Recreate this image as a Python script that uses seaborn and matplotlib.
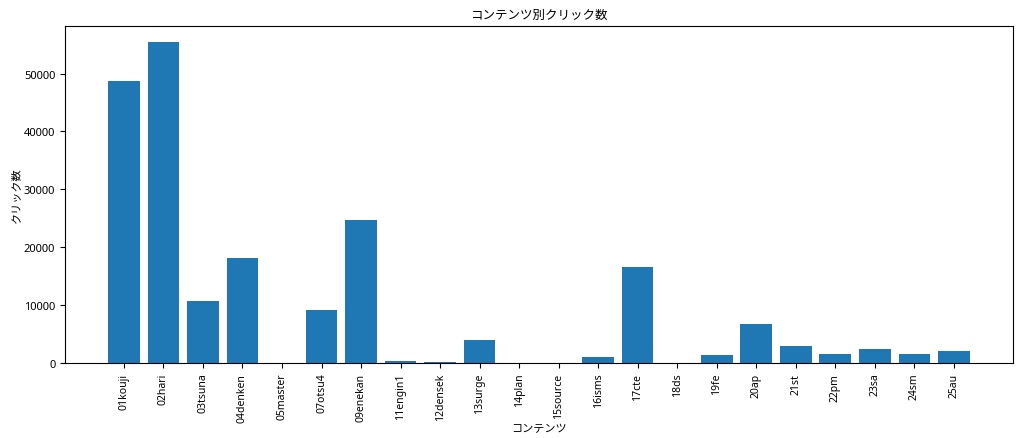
import pandas as pd
import numpy as np
import seaborn as sns
import matplotlib.pyplot as plt

# Data
contents = ['01kouji', '02hari', '03tsuna', '04denken', '05master', '07otsu4',
            '09enekan', '11engin1', '12densek', '13surge', '14plan', '15source',
            '16isms', '17cte', '18ds', '19fe', '20ap', '21st', '22pm', '23sa',
            '24sm', '25au']
clicks = [48650, 55400, 10650, 18100, 0, 9100,
          24700, 350, 150, 4000, 0, 0,
          1100, 16500, 0, 1350, 6700, 2850, 1500, 2400,
          1500, 2050]

df = pd.DataFrame({'contents': contents, 'clicks': clicks})

# latin glyphs from Noto Sans, japanese falls back to the CJK family
plt.rcParams['font.family'] = ['Noto Sans', 'Noto Sans CJK JP']
plt.rcParams['font.size'] = 8

fig, ax = plt.subplots(figsize=(10.24, 4.39), dpi=100)
fig.subplots_adjust(left=0.0635, right=0.989, top=0.938, bottom=0.171)

sns.barplot(data=df, x='contents', y='clicks', color='#1f77b4',
            saturation=1, width=0.8, ax=ax)

# matplotlib-like margins around the bars
n = len(contents)
pad = 0.05 * (n - 1 + 0.8)
ax.set_xlim(-0.4 - pad, n - 1 + 0.4 + pad)
ax.set_ylim(0, max(clicks) * 1.05)

ax.set_title('コンテンツ別クリック数', fontsize=9)
ax.set_xlabel('コンテンツ', fontsize=8, labelpad=1)
ax.set_ylabel('クリック数', fontsize=8, labelpad=1)
ax.tick_params(axis='y', labelsize=8)
ax.tick_params(axis='x', labelsize=7.5, rotation=90)

plt.savefig('out.png')
